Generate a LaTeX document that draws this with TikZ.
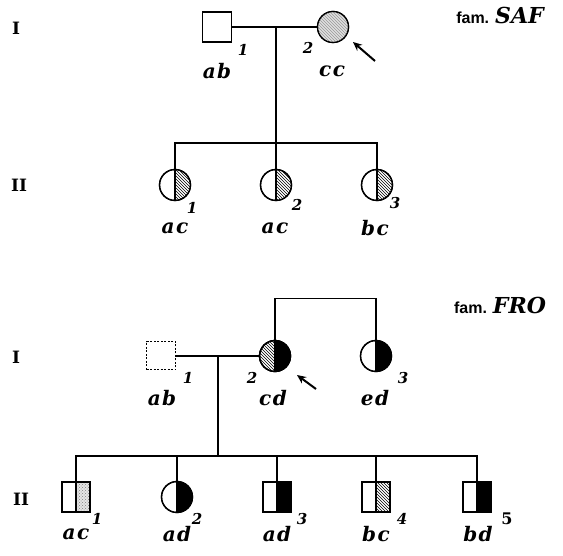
\documentclass[tikz,border=0pt]{standalone}
\usepackage{fontspec}
\newfontfamily\genofont{DejaVu Serif}
\newfontfamily\famfont{Liberation Sans}
\usetikzlibrary{patterns,arrows.meta}
\begin{document}
\begin{tikzpicture}[x=1pt,y=1pt,
  sq/.style={draw, line width=1.3pt, minimum width=29pt, minimum height=30pt, inner sep=0pt, outer sep=0pt},
  ci/.style={draw, circle, line width=1.3pt, minimum size=31pt, inner sep=0pt, outer sep=0pt},
  ln/.style={line width=1.3pt},
  geno/.style={font=\fontsize{20}{20}\selectfont\genofont\bfseries\itshape, inner sep=0pt},
  num/.style={font=\fontsize{15}{15}\selectfont\genofont\bfseries\itshape, inner sep=0pt},
  gen/.style={font=\fontsize{17}{17}\selectfont\genofont\bfseries, inner sep=0pt},
  fam/.style={inner sep=0pt},
  prob/.style={line width=2pt, -{Stealth[length=9pt,width=8pt]}},
  hatch/.style={pattern=north west lines},
  stip/.style={pattern=crosshatch dots, pattern color=gray},
  light/.style={pattern=north west lines, pattern color=gray!80}
]
\useasboundingbox (0,0) rectangle (563,555);
\newcommand\rhc[2]{\fill[#2] (#1.north) arc[start angle=90,end angle=-90,radius=15.5pt] -- cycle;
  \draw[ln] (#1.north)--(#1.south); \draw[ln] (#1.center) circle[radius=15.5pt];}
\newcommand\lhc[2]{\fill[#2] (#1.north) arc[start angle=90,end angle=270,radius=15.5pt] -- cycle;
  \draw[ln] (#1.north)--(#1.south); \draw[ln] (#1.center) circle[radius=15.5pt];}
\newcommand\rhs[2]{\fill[#2] (#1.north) rectangle (#1.south east);
  \draw[ln] (#1.north)--(#1.south); \draw[ln] (#1.south west) rectangle (#1.north east);}
\newcommand\gt[2]{#1\kern1.5pt#2}

% ---------- fam. SAF ----------
\node[fam] (fs) at (500,540) {\fontsize{16}{16}\selectfont\famfont\bfseries fam. \fontsize{22}{22}\selectfont\genofont\bfseries\itshape SAF};
\node[gen] (g1a) at (16,527) {I};
\node[gen] (g2a) at (19,370) {II};

\node[sq] (s1) at (217,528) {};
\node[ci] (s2) at (333,528) {};
\fill[gray!25] (s2.center) circle[radius=15.5pt];
\fill[light] (s2.center) circle[radius=15.5pt];
\draw[ln] (s2.center) circle[radius=15.5pt];
\draw[ln] (s1.east) -- (s2.west);
\coordinate (sm) at (276,528);
\coordinate (sj) at (276,412);
\draw[ln] (sm) -- (sj);

\node[ci] (s21) at (175,370) {};
\node[ci] (s22) at (276,370) {};
\node[ci] (s23) at (377,370) {};
\rhc{s21}{hatch}
\rhc{s22}{hatch}
\rhc{s23}{hatch}
\draw[ln] (s21.north) |- (sj) -| (s23.north);
\draw[ln] (sj) -- (s22.north);

\node[num] (n11) at (243,505) {1};
\node[num] (n12) at (308,507) {2};
\node[geno] (l11) at (217,484) {\gt ab};
\node[geno] (l12) at (332,484) {\gt cc};
\coordinate (ar1) at (375,494);
\coordinate (ar1e) at (353,513);
\draw[prob] (ar1) -- (ar1e);

\node[num] (n21) at (192,347) {1};
\node[num] (n22) at (297,350) {2};
\node[num] (n23) at (395,352) {3};
\node[geno] (l21) at (175,327) {\gt ac};
\node[geno] (l22) at (275,327) {\gt ac};
\node[geno] (l23) at (375,327) {\gt bc};

% ---------- fam. FRO ----------
\node[fam] (ff) at (500,250) {\fontsize{16}{16}\selectfont\famfont\bfseries fam. \fontsize{22}{22}\selectfont\genofont\bfseries\itshape FRO};
\node[gen] (g1b) at (16,198) {I};
\node[gen] (g2b) at (21,56) {II};

\node[sq, dashed, dash pattern=on 2pt off 1.5pt, line width=1pt, minimum height=28pt] (f1) at (161,199) {};
\node[ci] (f2) at (275,199) {};
\node[ci] (f3) at (376,199) {};
\lhc{f2}{hatch}
\rhc{f2}{black}
\rhc{f3}{black}
\draw[ln] (f1.east) -- (f2.west);
\draw[ln] (f2.north) -- ++(0,42) -| (f3.north);
\coordinate (fm) at (218,199);
\coordinate (fj) at (218,99);
\draw[ln] (fm) -- (fj);

\node[num] (m11) at (188,177) {1};
\node[num] (m12) at (252,177) {2};
\node[num] (m13) at (403,177) {3};
\node[geno] (k11) at (162,157) {\gt ab};
\node[geno] (k12) at (273,157) {\gt cd};
\node[geno] (k13) at (375,157) {\gt ed};
\coordinate (ar2) at (316,166);
\coordinate (ar2e) at (297,180);
\draw[prob] (ar2) -- (ar2e);

\node[sq, minimum width=28pt] (f21) at (76,58) {};
\node[ci] (f22) at (177,58) {};
\node[sq, minimum width=28pt] (f23) at (277,58) {};
\node[sq, minimum width=28pt] (f24) at (376,58) {};
\node[sq, minimum width=28pt] (f25) at (477,58) {};
\fill[gray!20] (f21.north) rectangle (f21.south east);
\rhs{f21}{stip}
\rhc{f22}{black}
\rhs{f23}{black}
\rhs{f24}{hatch}
\rhs{f25}{black}
\draw[ln] (f21.north) |- (fj) -| (f25.north);
\draw[ln] (f22.north) -- (f22.north |- fj);
\draw[ln] (f23.north) -- (f23.north |- fj);
\draw[ln] (f24.north) -- (f24.north |- fj);

\node[num] (m21) at (97,36) {1};
\node[num] (m22) at (197,36) {2};
\node[num] (m23) at (302,36) {3};
\node[num] (m24) at (402,36) {4};
\node[num, font=\fontsize{16}{16}\selectfont\genofont\bfseries\upshape] (m25) at (507,36) {5};
\node[geno] (k21) at (76,21) {\gt ac};
\node[geno] (k22) at (177,21) {\gt ad};
\node[geno] (k23) at (277,21) {\gt ad};
\node[geno] (k24) at (376,21) {\gt bc};
\node[geno] (k25) at (478,21) {\gt bd};
\end{tikzpicture}
\end{document}
